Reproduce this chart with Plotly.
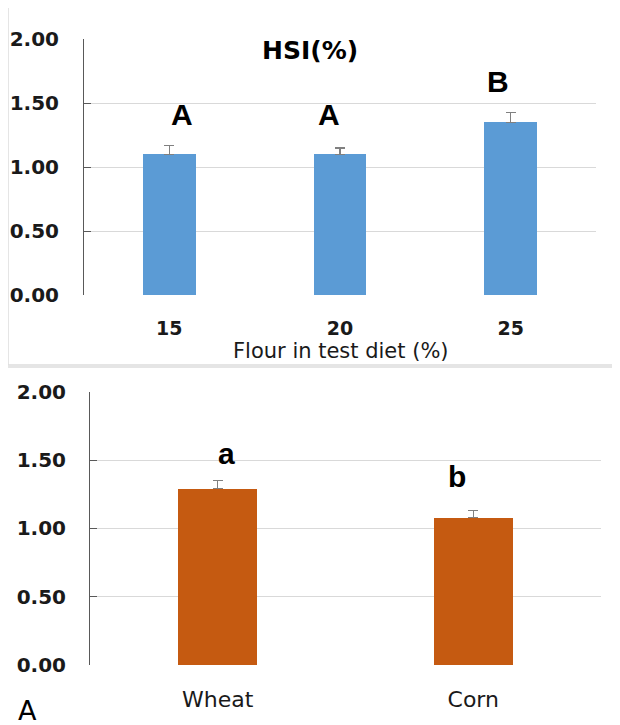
import plotly.graph_objects as go

# Top panel data
top_categories = ["15", "20", "25"]
top_values = [1.10, 1.10, 1.35]
top_errors = [0.07, 0.05, 0.08]
top_letters = ["A", "A", "B"]
top_letter_y = [1.41, 1.41, 1.67]

# Bottom panel data
bot_categories = ["Wheat", "Corn"]
bot_values = [1.29, 1.08]
bot_errors = [0.06, 0.05]
bot_letters = ["a", "b"]
bot_letter_y = [1.55, 1.38]

y_ticks = [0.0, 0.5, 1.0, 1.5, 2.0]
y_ticklabels = ["0.00", "0.50", "1.00", "1.50", "2.00"]

W, H = 620, 725
OX, OY = 8, 8  # page body margin offset


def px(x):
    return (x - OX) / W


def py(y):
    return 1 - (y - OY) / H


TICKFONT_B = dict(family="DejaVu Sans", size=20, color="#1a1a1a", weight="bold")
XTICKFONT_TOP = dict(family="DejaVu Sans", size=19, color="#1a1a1a", weight="bold")
XTICKFONT = dict(family="DejaVu Sans", size=22, color="#1a1a1a")

fig = go.Figure()

fig.add_trace(go.Bar(
    x=top_categories, y=top_values, width=0.31,
    marker=dict(color="#5B9BD5", line=dict(width=0)),
    error_y=dict(type="data", array=top_errors, arrayminus=[0] * len(top_errors),
                 symmetric=False, color="#808080", thickness=1.2, width=5),
    xaxis="x", yaxis="y", showlegend=False, hoverinfo="skip",
))
fig.add_trace(go.Bar(
    x=bot_categories, y=bot_values, width=0.31,
    marker=dict(color="#C55A11", line=dict(width=0)),
    error_y=dict(type="data", array=bot_errors, arrayminus=[0] * len(bot_errors),
                 symmetric=False, color="#808080", thickness=1.2, width=5),
    xaxis="x2", yaxis="y2", showlegend=False, hoverinfo="skip",
))


def yaxis_cfg(domain, anchor, standoff):
    return dict(
        domain=domain, anchor=anchor,
        range=[0, 2.0], tickvals=y_ticks, ticktext=y_ticklabels,
        showgrid=True, gridcolor="#D9D9D9", gridwidth=1,
        showline=True, linecolor="#595959", linewidth=1,
        ticks="inside", ticklen=7, tickcolor="#595959",
        tickfont=TICKFONT_B, ticklabelstandoff=standoff,
        zeroline=False, automargin=False, fixedrange=True,
    )


fig.update_layout(
    width=W, height=H,
    margin=dict(l=0, r=0, t=0, b=0),
    paper_bgcolor="white", plot_bgcolor="white",
    bargap=0,
    xaxis=dict(domain=[px(84), px(596)], anchor="y", type="category", range=[-0.5, 2.5],
               ticks="", showline=False, showgrid=False, zeroline=False,
               tickfont=XTICKFONT_TOP, ticklabelstandoff=20, automargin=False, fixedrange=True),
    yaxis=yaxis_cfg([py(295), py(39.3)], "x", 20),
    xaxis2=dict(domain=[px(90), px(601)], anchor="y2", type="category", range=[-0.5, 1.5],
                ticks="", showline=False, showgrid=False, zeroline=False,
                tickfont=XTICKFONT, ticklabelstandoff=19, automargin=False, fixedrange=True),
    yaxis2=yaxis_cfg([py(665), py(391.7)], "x2", 19),
)

shapes = [
    dict(type="rect", xref="paper", yref="paper", x0=px(8), x1=px(624), y0=py(365), y1=py(6),
         line=dict(color="#DDDDDD", width=1.5), layer="below"),
    dict(type="rect", xref="paper", yref="paper", x0=px(4), x1=px(618), y0=py(730), y1=py(367),
         line=dict(color="#DDDDDD", width=1.5), layer="below"),
]
fig.update_layout(shapes=shapes)

annotations = []
top_shift = [13, -11, -13]
for i, (ly, t) in enumerate(zip(top_letter_y, top_letters)):
    annotations.append(dict(x=i, y=ly, xref="x", yref="y", text=f"<b>{t}</b>",
                            showarrow=False, xshift=top_shift[i],
                            font=dict(family="Liberation Sans", size=30, color="black")))
bot_shift = [9, -16]
for i, (ly, t) in enumerate(zip(bot_letter_y, bot_letters)):
    annotations.append(dict(x=i, y=ly, xref="x2", yref="y2", text=f"<b>{t}</b>",
                            showarrow=False, xshift=bot_shift[i],
                            font=dict(family="Liberation Sans", size=30, color="black")))
annotations.append(dict(x=px(310), y=py(34), xref="paper", yref="paper", text="<b>HSI(%)</b>",
                        showarrow=False, font=dict(family="DejaVu Sans", size=25, color="black")))
annotations.append(dict(x=px(341), y=py(351), xref="paper", yref="paper", text="Flour in test diet (%)",
                        showarrow=False, font=dict(family="DejaVu Sans", size=21, color="#1a1a1a")))
annotations.append(dict(x=px(27), y=py(711), xref="paper", yref="paper", text="A",
                        xshift=-11, yshift=-17,
                        showarrow=False, font=dict(family="DejaVu Sans", size=27, color="black")))
fig.update_layout(annotations=annotations)

fig.write_html("out.html")
